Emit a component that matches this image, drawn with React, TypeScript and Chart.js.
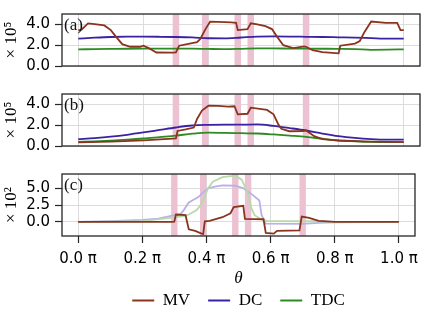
import React, { useEffect, useRef } from 'react';
import { Chart, registerables } from 'chart.js';

Chart.register(...registerables);

// ---------------- data ----------------
const xTickValues = [0, 0.2, 0.4, 0.6, 0.8, 1.0];
const bandCenters = [0.3, 0.39, 0.49, 0.53, 0.7];
const bandWidth = 0.02;
const seriesNames = ['MV', 'DC', 'TDC'];
const panelLabels = ['(a)', '(b)', '(c)'];
const yTitles = ['× 10⁵', '× 10⁵', '× 10²'];
const yTicksAB = [0, 2, 4];
const yTicksC = [0, 2.5, 5];

// smooth curves sampled on a regular grid (theta / pi)
const thetaSmooth = [0, 0.05, 0.1, 0.15, 0.2, 0.25, 0.3, 0.35, 0.4, 0.45, 0.5, 0.55, 0.6, 0.65, 0.7, 0.75, 0.8, 0.85, 0.9, 0.95, 1.0];

// panel (a)
const thetaMvA = [0, 0.01, 0.03, 0.05, 0.08, 0.1, 0.115, 0.135, 0.16, 0.19, 0.2, 0.215, 0.24, 0.29, 0.3, 0.31, 0.35, 0.365, 0.375, 0.39, 0.405, 0.43, 0.47, 0.485, 0.49, 0.52, 0.53, 0.55, 0.575, 0.595, 0.61, 0.63, 0.66, 0.695, 0.7, 0.72, 0.75, 0.8, 0.805, 0.85, 0.865, 0.88, 0.9, 0.945, 0.98, 0.99, 1.0];
const mvA = [3.43, 3.5, 4.1, 4.02, 3.9, 3.45, 2.85, 2.1, 1.85, 1.85, 1.95, 1.75, 1.3, 1.28, 1.3, 1.95, 2.2, 2.3, 2.6, 3.5, 4.26, 4.25, 4.2, 4.15, 3.45, 3.55, 4.1, 4.0, 3.83, 3.55, 2.85, 2.0, 1.72, 1.88, 1.85, 1.52, 1.33, 1.22, 1.95, 2.16, 2.4, 3.3, 4.28, 4.15, 4.15, 3.45, 3.45];
const dcA = [2.63, 2.72, 2.79, 2.82, 2.82, 2.81, 2.79, 2.75, 2.67, 2.66, 2.74, 2.82, 2.84, 2.83, 2.81, 2.79, 2.76, 2.73, 2.68, 2.63, 2.64];
const tdcA = [1.6, 1.62, 1.64, 1.66, 1.67, 1.67, 1.67, 1.67, 1.64, 1.62, 1.65, 1.69, 1.69, 1.68, 1.67, 1.66, 1.65, 1.63, 1.56, 1.57, 1.6];

// panel (b)
const thetaMvB = [0, 0.1, 0.2, 0.29, 0.3, 0.305, 0.33, 0.355, 0.365, 0.38, 0.4, 0.43, 0.46, 0.48, 0.49, 0.52, 0.53, 0.58, 0.6, 0.614, 0.624, 0.648, 0.69, 0.7, 0.725, 0.75, 0.8, 0.9, 1.0];
const mvB = [0.34, 0.42, 0.55, 0.7, 0.72, 1.45, 1.6, 1.77, 2.6, 3.4, 3.87, 3.85, 3.78, 3.82, 3.05, 3.1, 3.68, 3.47, 3.05, 2.12, 1.65, 1.42, 1.43, 1.5, 0.95, 0.67, 0.53, 0.42, 0.37];
const dcB = [0.65, 0.76, 0.9, 1.08, 1.3, 1.54, 1.78, 1.97, 2.03, 2.05, 2.05, 2.07, 1.93, 1.72, 1.49, 1.2, 0.95, 0.78, 0.67, 0.62, 0.62];
const tdcB = [0.39, 0.45, 0.52, 0.61, 0.72, 0.86, 1.0, 1.18, 1.28, 1.26, 1.23, 1.2, 1.11, 1.0, 0.88, 0.7, 0.53, 0.45, 0.39, 0.37, 0.37];

// panel (c)
const thetaMvC = [0, 0.29, 0.3, 0.305, 0.335, 0.345, 0.365, 0.385, 0.39, 0.395, 0.41, 0.45, 0.475, 0.485, 0.515, 0.52, 0.578, 0.585, 0.61, 0.62, 0.69, 0.697, 0.72, 0.75, 0.8, 1.0];
const mvC = [0, 0, 0.05, 1.1, 1.0, -1.1, -1.35, -1.75, -1.8, 0.1, 0.15, 0.7, 1.3, 2.2, 2.4, 0.45, 0.4, -1.65, -1.75, -1.33, -1.25, 0.8, 0.6, 0.17, 0.02, 0];
const thetaDcC = [0, 0.1, 0.2, 0.25, 0.29, 0.32, 0.33, 0.345, 0.36, 0.375, 0.39, 0.405, 0.43, 0.45, 0.49, 0.514, 0.545, 0.565, 0.572, 0.585, 0.7, 0.75, 0.8, 1.0];
const dcC = [0, 0.12, 0.3, 0.5, 0.9, 1.2, 1.8, 2.9, 3.3, 3.7, 4.4, 5.0, 5.3, 5.45, 5.4, 5.05, 4.0, 3.2, 1.0, -0.25, -0.28, -0.15, -0.05, 0];
const thetaTdcC = [0, 0.1, 0.2, 0.3, 0.335, 0.345, 0.37, 0.38, 0.39, 0.405, 0.42, 0.45, 0.49, 0.51, 0.528, 0.54, 0.55, 0.57, 0.59, 0.75, 0.8, 1.0];
const tdcC = [0, 0.05, 0.13, 0.67, 0.9, 1.1, 1.77, 2.4, 3.3, 5.0, 6.0, 6.67, 6.9, 6.3, 4.5, 2.1, 1.0, 0.4, 0.12, 0.1, 0.0, 0];

// ---------------- styles ----------------
const C_MV = '#8a3420';
const C_DC = '#3a22a4';
const C_TDC = '#2e8a22';
const C_DC_LIGHT = '#b9b0ea';
const C_TDC_LIGHT = '#b6daab';
const legendColors = [C_MV, C_DC, C_TDC];
const BAND_COLOR = '#ecc2d3';
const GRID_COLOR = '#dcdcdc';
const FRAME_COLOR = '#262626';
const SANS = 'DejaVu Sans';
const SERIF = 'Liberation Serif';

function pts(xs: number[], ys: number[]) {
  return xs.map((x, i) => ({ x, y: ys[i] }));
}

function line(data: any[], color: string, smooth: boolean, order: number) {
  return {
    data,
    borderColor: color,
    backgroundColor: color,
    borderWidth: 1.8,
    pointRadius: 0,
    tension: 0,
    cubicInterpolationMode: smooth ? 'monotone' : 'default',
    fill: false,
    order,
  };
}

type PanelSpec = {
  label: string;
  yTitle: string;
  yMin: number;
  yMax: number;
  yTicks: number[];
  datasets: any[];
  top: number;
  height: number;
  padTop: number;
  padBottom: number;
  bottom: boolean;
};

const panels: PanelSpec[] = [
  {
    label: panelLabels[0], yTitle: yTitles[0], yMin: 0, yMax: 5.0, yTicks: yTicksAB,
    datasets: [
      line(pts(thetaSmooth, dcA), C_DC, true, 2),
      line(pts(thetaSmooth, tdcA), C_TDC, true, 3),
      line(pts(thetaMvA, mvA), C_MV, false, 1),
    ],
    top: 0, height: 80, padTop: 3.5, padBottom: 7, bottom: false,
  },
  {
    label: panelLabels[1], yTitle: yTitles[1], yMin: 0, yMax: 5.0, yTicks: yTicksAB,
    datasets: [
      line(pts(thetaSmooth, dcB), C_DC, true, 2),
      line(pts(thetaSmooth, tdcB), C_TDC, true, 3),
      line(pts(thetaMvB, mvB), C_MV, false, 1),
    ],
    top: 80, height: 80, padTop: 5, padBottom: 5, bottom: false,
  },
  {
    label: panelLabels[2], yTitle: yTitles[2], yMin: -2.1, yMax: 7.15, yTicks: yTicksC,
    datasets: [
      line(pts(thetaDcC, dcC), C_DC_LIGHT, false, 3),
      line(pts(thetaTdcC, tdcC), C_TDC_LIGHT, false, 2),
      line(pts(thetaMvC, mvC), C_MV, false, 1),
    ],
    top: 160, height: 149, padTop: 6.7, padBottom: 0, bottom: true,
  },
];

function buildConfig(p: PanelSpec): any {
  const decor = {
    id: 'decor',
    beforeDatasetsDraw(chart: any) {
      const { ctx, chartArea, scales } = chart;
      const x = scales.x;
      ctx.save();
      ctx.fillStyle = BAND_COLOR;
      for (const c of bandCenters) {
        const x0 = x.getPixelForValue(c - bandWidth / 2);
        const x1 = x.getPixelForValue(c + bandWidth / 2);
        ctx.fillRect(x0, chartArea.top, x1 - x0, chartArea.bottom - chartArea.top);
      }
      ctx.restore();
    },
    afterDraw(chart: any) {
      const { ctx, chartArea } = chart;
      ctx.save();
      ctx.strokeStyle = FRAME_COLOR;
      ctx.lineWidth = 1.3;
      ctx.strokeRect(chartArea.left, chartArea.top, chartArea.right - chartArea.left, chartArea.bottom - chartArea.top);
      ctx.fillStyle = '#111';
      ctx.font = `17px "${SERIF}"`;
      ctx.textBaseline = 'middle';
      ctx.textAlign = 'left';
      ctx.fillText(p.label, chartArea.left + 2, chartArea.top + 11.5);
      ctx.restore();
    },
  };

  return {
    type: 'line',
    data: { datasets: p.datasets },
    options: {
      animation: false,
      responsive: false,
      maintainAspectRatio: false,
      layout: { padding: { top: p.padTop, bottom: p.padBottom, left: 0, right: 5 } },
      plugins: {
        tooltip: { enabled: false },
        legend: p.bottom
          ? {
              display: true,
              position: 'bottom',
              fullSize: false,
              maxHeight: 35,
              labels: {
                boxWidth: 22,
                boxHeight: 2,
                padding: 18,
                color: '#111',
                font: { family: SERIF, size: 17 },
                generateLabels: () =>
                  seriesNames.map((n, i) => ({
                    text: n,
                    fillStyle: legendColors[i],
                    strokeStyle: legendColors[i],
                    lineWidth: 0,
                    hidden: false,
                    datasetIndex: i,
                  })),
              },
            }
          : { display: false },
      },
      scales: {
        x: {
          type: 'linear',
          min: -0.05,
          max: 1.05,
          afterBuildTicks: (s: any) => {
            s.ticks = xTickValues.map((v) => ({ value: v }));
          },
          afterFit: (s: any) => {
            s.height = p.bottom ? 38 : 0;
          },
          border: { display: false },
          grid: {
            color: GRID_COLOR,
            lineWidth: 1,
            drawTicks: p.bottom,
            tickLength: 7,
            tickColor: FRAME_COLOR,
            tickWidth: 1.2,
          },
          ticks: {
            display: p.bottom,
            padding: 7,
            color: '#000',
            font: { family: SANS, size: 15 },
            callback: (v: number) => `${v.toFixed(1)} π`,
          },
          title: {
            display: p.bottom,
            text: 'θ',
            color: '#000',
            font: { family: SERIF, size: 17, style: 'italic' },
            padding: { top: 0, bottom: -15.2 },
          },
        },
        y: {
          min: p.yMin,
          max: p.yMax,
          afterBuildTicks: (s: any) => {
            s.ticks = p.yTicks.map((v) => ({ value: v }));
          },
          afterFit: (s: any) => {
            s.width = 62;
          },
          border: { display: false },
          grid: {
            color: GRID_COLOR,
            lineWidth: 1,
            drawTicks: true,
            tickLength: 7,
            tickColor: FRAME_COLOR,
            tickWidth: 1.2,
          },
          ticks: {
            padding: 5,
            color: '#000',
            font: { family: SANS, size: 15 },
            callback: (v: number) => v.toFixed(1),
          },
          title: {
            display: true,
            text: p.yTitle,
            color: '#000',
            font: { family: SERIF, size: 17, lineHeight: 1.2 },
            padding: { top: 1, bottom: 0 },
          },
        },
      },
    },
    plugins: [decor],
  };
}

function PanelChart({ spec }: { spec: PanelSpec }) {
  const ref = useRef<HTMLCanvasElement>(null);
  useEffect(() => {
    const chart = new Chart(ref.current as HTMLCanvasElement, buildConfig(spec));
    return () => chart.destroy();
  }, [spec]);
  return (
    <canvas
      ref={ref}
      width={425}
      height={spec.height}
      style={{ position: 'absolute', left: 0, top: spec.top, width: 425, height: spec.height, display: 'block' }}
    />
  );
}

export default function App() {
  return (
    <div style={{ position: 'absolute', left: 0, top: 0, width: 425, height: 309, background: '#fff', overflow: 'hidden' }}>
      {panels.map((s, i) => (
        <PanelChart key={i} spec={s} />
      ))}
    </div>
  );
}
